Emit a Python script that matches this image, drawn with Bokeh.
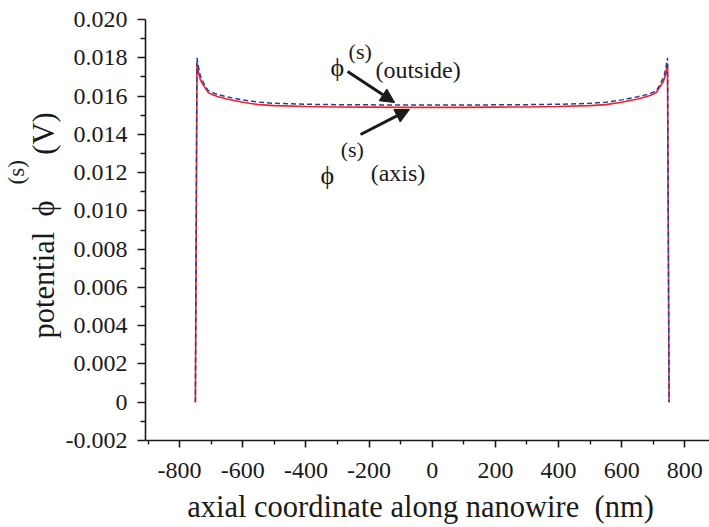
import math
from bokeh.plotting import figure
from bokeh.models import (Range1d, FixedTicker, Label, Arrow, NormalHead,
                          ColumnDataSource, CustomJSTickFormatter)
from bokeh.embed import file_html
from bokeh.resources import INLINE

# ---- data ----
x_nm = [-750, -745, -740, -735, -730, -720, -710, -700, -680, -650, -600, -550,
        -500, -400, -300, -200, -100, 0, 100, 200, 300, 400, 500, 550, 600,
        650, 680, 700, 710, 720, 730, 735, 740, 745, 750]
phi_axis = [0.0, 0.0177, 0.0172, 0.0169, 0.0167, 0.01645, 0.0162, 0.0161,
            0.01598, 0.01585, 0.01568, 0.01555, 0.01550, 0.01545, 0.01543,
            0.01542, 0.01541, 0.01541, 0.01541, 0.01542, 0.01543, 0.01545,
            0.01550, 0.01555, 0.01568, 0.01585, 0.01598, 0.0161, 0.0162,
            0.01645, 0.0167, 0.0169, 0.0172, 0.0177, 0.0]
phi_outside = [0.0, 0.0180, 0.0175, 0.0171, 0.0169, 0.01655, 0.0163, 0.0162,
               0.01608, 0.01596, 0.01580, 0.01568, 0.01562, 0.01557, 0.01555,
               0.01554, 0.01553, 0.01553, 0.01553, 0.01554, 0.01555, 0.01557,
               0.01562, 0.01568, 0.01580, 0.01596, 0.01608, 0.0162, 0.0163,
               0.01655, 0.0169, 0.0171, 0.0175, 0.0180, 0.0]

x_ticks = [-800, -600, -400, -200, 0, 200, 400, 600, 800]
x_minor = [-900, -700, -500, -300, -100, 100, 300, 500, 700, 900]
y_ticks = [-0.002, 0.0, 0.002, 0.004, 0.006, 0.008, 0.010, 0.012, 0.014,
           0.016, 0.018, 0.020]
y_minor = [-0.001, 0.001, 0.003, 0.005, 0.007, 0.009, 0.011, 0.013, 0.015,
           0.017, 0.019]

NB = "\u00a0"
x_title = "axial coordinate along nanowire" + NB + " (nm)"
y_title_main = "potential" + NB + " \u03d5" + NB * 6 + "(V)"
y_title_sup = "(s)"

FONT = "Liberation Serif"
INK = "#1a1a1a"

p = figure(width=709, height=527, output_backend="svg", toolbar_location=None,
           x_range=Range1d(-908, 878), y_range=Range1d(-0.002, 0.020),
           min_border_left=145, min_border_right=0, min_border_top=19,
           min_border_bottom=87, title="")
p.outline_line_color = None
p.grid.visible = False
p.background_fill_color = "white"
p.border_fill_color = "white"

src = ColumnDataSource(dict(x=x_nm, axis=phi_axis, outside=phi_outside))
p.line("x", "axis", source=src, line_color="#f0232b", line_width=1.6)
p.line("x", "outside", source=src, line_color="#2e3d9c", line_width=1.5,
       line_dash="5 3")

for ax in (p.xaxis[0], p.yaxis[0]):
    ax.axis_line_color = INK
    ax.axis_line_width = 1.6
    ax.major_tick_line_color = INK
    ax.major_tick_line_width = 1.6
    ax.minor_tick_line_color = INK
    ax.minor_tick_line_width = 1.4
    ax.major_tick_in = 0
    ax.minor_tick_in = 0
    ax.major_label_text_font = FONT
    ax.major_label_text_font_size = "24px"
    ax.major_label_text_color = INK

p.xaxis.ticker = FixedTicker(ticks=x_ticks, minor_ticks=x_minor)
p.xaxis.major_tick_out = 7
p.xaxis.minor_tick_out = 4
p.xaxis.major_label_standoff = 15
p.xaxis.formatter = CustomJSTickFormatter(code="return tick.toFixed(0);")

p.yaxis.ticker = FixedTicker(ticks=y_ticks, minor_ticks=y_minor)
p.yaxis.major_tick_out = 8
p.yaxis.minor_tick_out = 5
p.yaxis.major_label_standoff = 10
p.yaxis.formatter = CustomJSTickFormatter(
    code="return Math.abs(tick) < 1e-9 ? '0' : tick.toFixed(3);")

def lab(text, x, y, size, angle=0.0, place="center"):
    p.add_layout(Label(x=x, y=y, text=text, text_font=FONT,
                       text_font_size=size, text_color=INK, angle=angle,
                       text_align="left", text_baseline="alphabetic"), place)

# axis titles (placed in the side panels so they are not clipped)
lab(x_title, -776, -0.00546, "30.5px", place="below")
lab(y_title_main, -1230, 0.00333, "30.5px", math.pi / 2, place="left")
lab(y_title_sup, -1316, 0.01138, "23px", math.pi / 2, place="left")

# annotations
lab("\u03d5", -322, 0.017507, "26px")
lab("(s)", -265, 0.018349, "22px")
lab("(outside)", -180, 0.017361, "24px")
lab("\u03d5", -354, 0.011874, "26px")
lab("(s)", -290, 0.013227, "22px")
lab("(axis)", -195, 0.011978, "24px")

head = dict(size=14, fill_color=INK, line_color=INK)
p.add_layout(Arrow(end=NormalHead(**head), x_start=-268, y_start=0.01728,
                   x_end=-119, y_end=0.01566, line_width=3, line_color=INK))
p.add_layout(Arrow(end=NormalHead(**head), x_start=-227, y_start=0.01399,
                   x_end=-72, y_end=0.0153, line_width=3, line_color=INK))

open("out.html", "w").write(file_html(p, INLINE))
